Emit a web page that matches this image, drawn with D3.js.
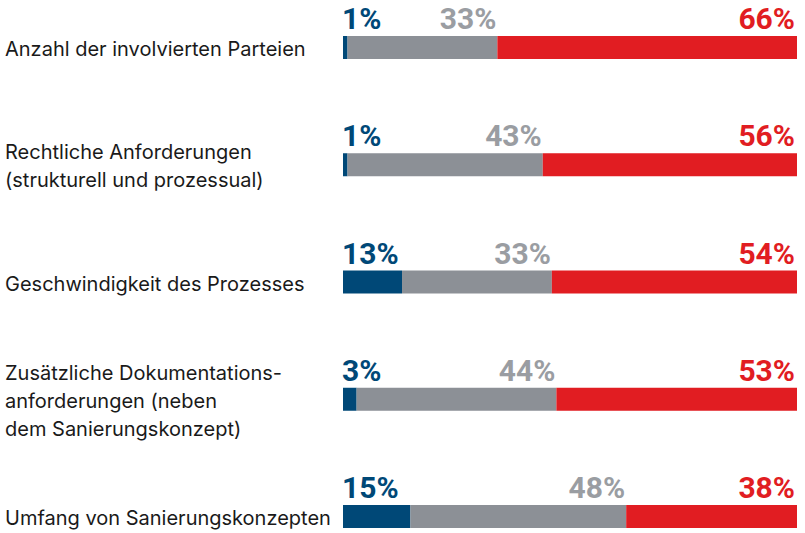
<!DOCTYPE html>
<html>
<head>
<meta charset="utf-8">
<script src="https://cdn.jsdelivr.net/npm/d3@7"></script>
<style>
  body { margin: 0; background: #fff; }
  .cat { font-family: Inter, Lato, sans-serif; font-size: 20px; fill: #1a1a1a; }
  .pct { font-family: Roboto, "Noto Sans", sans-serif; font-size: 30px; font-weight: 700; }
</style>
</head>
<body>
<div id="chart"></div>
<script>
// Data
var categories = [
    ["Anzahl der involvierten Parteien"],
    ["Rechtliche Anforderungen", "(strukturell und prozessual)"],
    ["Geschwindigkeit des Prozesses"],
    ["Zusätzliche Dokumentations-", "anforderungen (neben", "dem Sanierungskonzept)"],
    ["Umfang von Sanierungskonzepten"]
];
var blueValues = [1, 1, 13, 3, 15];
var greyValues = [33, 43, 33, 44, 48];
var redValues = [66, 56, 54, 53, 38];

var colors = { blue: "#004877", grey: "#8c9096", red: "#e11d22" };
var textColors = { blue: "#004877", grey: "#9a9da2", red: "#e11d22" };

var svgWidth = 805;
var svgHeight = 533;

var svg = d3.select("#chart")
    .append("svg")
    .attr("width", svgWidth)
    .attr("height", svgHeight);

var rows = categories.map(function(c, i) {
    return { label: c, blue: blueValues[i], grey: greyValues[i], red: redValues[i] };
});

// Scales: row index -> bar top, share -> x
var yScale = d3.scaleLinear().domain([0, rows.length - 1]).range([36, 505]);
var xScale = d3.scaleLinear().domain([0, 1]).range([343, 797]);
var barH = 23;

rows.forEach(function(d, i) {
    var total = d.blue + d.grey + d.red;
    var segs = [
        { key: "blue", v0: 0, v1: d.blue / total, val: d.blue },
        { key: "grey", v0: d.blue / total, v1: (d.blue + d.grey) / total, val: d.grey },
        { key: "red", v0: (d.blue + d.grey) / total, v1: 1, val: d.red }
    ];
    var g = svg.append("g");
    var top = yScale(i);

    g.selectAll("rect")
        .data(segs)
        .enter()
        .append("rect")
        .attr("x", s => xScale(s.v0))
        .attr("y", top)
        .attr("width", s => xScale(s.v1) - xScale(s.v0))
        .attr("height", barH)
        .attr("fill", s => colors[s.key]);

    // Percent labels
    g.selectAll("text.pct")
        .data(segs)
        .enter()
        .append("text")
        .attr("class", "pct")
        .attr("x", s => s.key == "blue" ? xScale(0) - 1 : xScale(s.v1) - (s.key == "red" ? 2 : 1))
        .attr("y", top - 7)
        .attr("text-anchor", s => s.key == "blue" ? "start" : "end")
        .attr("fill", s => textColors[s.key])
        .text(s => s.val + "%");

    // Category label, centred on the bar
    var lineH = 28;
    var n = d.label.length;
    var firstBaseline = top + barH / 2 + 8.5 - (n - 1) * lineH / 2;
    g.append("text")
        .attr("class", "cat")
        .selectAll("tspan")
        .data(d.label)
        .enter()
        .append("tspan")
        .attr("x", 5)
        .attr("y", (l, j) => firstBaseline + j * lineH)
        .text(l => l);
});
</script>
</body>
</html>
